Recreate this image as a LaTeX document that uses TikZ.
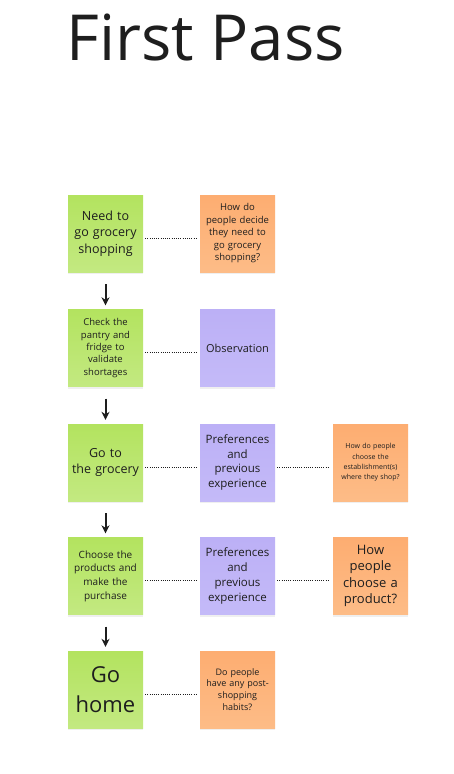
\documentclass[tikz,border=0pt]{standalone}
\usepackage{fontspec}
\setmainfont{Open Sans}
\usepackage{xcolor}
\usepackage{tikz}
\usetikzlibrary{shadows,arrows.meta}

\definecolor{greentop}{HTML}{B3E35F}
\definecolor{greenbot}{HTML}{C3E981}
\definecolor{violtop}{HTML}{BCB0F6}
\definecolor{violbot}{HTML}{C4BAF8}
\definecolor{orantop}{HTML}{FDAD71}
\definecolor{oranbot}{HTML}{FDBC87}
\definecolor{ink}{HTML}{1E1E1E}

\begin{document}
\begin{tikzpicture}[x=1pt,y=1pt,
	note/.style={minimum width=75pt,minimum height=77pt,inner sep=2pt,
		align=center,text width=70pt,text=ink,
		drop shadow={opacity=0.12,shadow xshift=0pt,shadow yshift=-2pt}},
	greennote/.style={note,top color=greentop,bottom color=greenbot},
	violnote/.style={note,top color=violtop,bottom color=violbot},
	orannote/.style={note,top color=orantop,bottom color=oranbot},
	flow/.style={-{Stealth[length=8pt,width=8pt]},line width=2pt,draw=ink,
		shorten <=12pt,shorten >=4pt},
	link/.style={line width=1pt,draw=ink,dash pattern=on 1pt off 1.2pt,
		shorten <=2pt,shorten >=3pt}]
	\useasboundingbox[fill=white] (0,0) rectangle (453,-774);

	% title
	\node[anchor=base west,inner sep=0pt,text=ink,font=\fontsize{63.5}{68}\selectfont]
		(title) at (66.5,-60) {First Pass};

	% steps
	\node[greennote,font=\fontsize{12.5}{16.5}\selectfont] (g1) at (105.5,-233.5)
		{Need to\\go grocery\\shopping};
	\node[greennote,font=\fontsize{9.5}{12.3}\selectfont] (g2) at (105.5,-348)
		{Check the\\pantry and\\fridge to\\validate\\shortages};
	\node[greennote,font=\fontsize{12.5}{16.5}\selectfont] (g3) at (105.5,-462.5)
		{Go to\\the grocery};
	\node[greennote,font=\fontsize{10}{13.7}\selectfont] (g4) at (105.5,-576)
		{Choose the\\products and\\make the\\purchase};
	\node[greennote,font=\fontsize{22}{30}\selectfont] (g5) at (105.5,-689.5)
		{Go\\home};

	% second column
	\node[orannote,font=\fontsize{9.5}{12.5}\selectfont] (q1) at (237.5,-233.5)
		{How do\\people decide\\they need to\\go grocery\\shopping?};
	\node[violnote,font=\fontsize{11}{14}\selectfont] (o2) at (237.5,-348)
		{Observation};
	\node[violnote,font=\fontsize{11.5}{14.7}\selectfont] (p3) at (237.5,-462.5)
		{Preferences\\and\\previous\\experience};
	\node[violnote,font=\fontsize{11.5}{14.7}\selectfont] (p4) at (237.5,-576)
		{Preferences\\and\\previous\\experience};
	\node[orannote,font=\fontsize{9}{11.8}\selectfont] (q5) at (237.5,-689.5)
		{Do people\\have any post-\\shopping\\habits?};

	% third column
	\node[orannote,font=\fontsize{7}{10.3}\selectfont] (q3) at (370.5,-462.5)
		{How do people\\choose the\\establishment(s)\\where they shop?};
	\node[orannote,font=\fontsize{13}{16.3}\selectfont] (q4) at (370.5,-576)
		{How\\people\\choose a\\product?};

	% arrows down
	\foreach \a/\b in {g1/g2,g2/g3,g3/g4,g4/g5}
		\draw[flow] (\a.south) -- (\b.north);

	% dotted links
	\foreach \a/\b in {g1/q1,g2/o2,g3/p3,g4/p4,g5/q5,p3/q3,p4/q4}
		\draw[link] ([yshift=-4.5pt]\a.east) -- ([yshift=-4.5pt]\b.west);
\end{tikzpicture}
\end{document}
